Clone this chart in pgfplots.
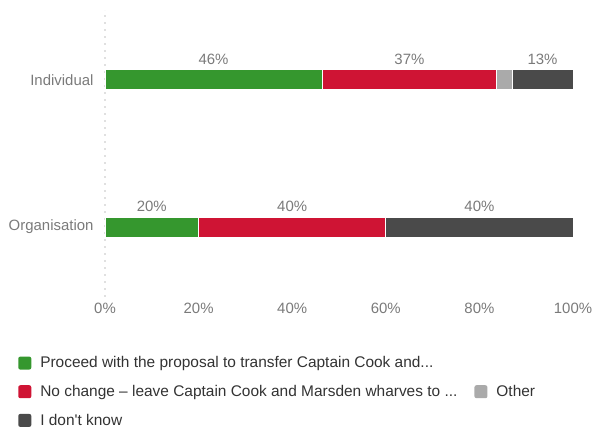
\documentclass[border=0pt]{standalone}
\usepackage{fontspec}
\setmainfont[Ligatures=TeXOff]{Liberation Sans}
\usepackage{pgfplots}
\pgfplotsset{compat=1.18}

\definecolor{cgreen}{HTML}{35972E}
\definecolor{cred}{HTML}{CF1434}
\definecolor{cother}{HTML}{AAAAAA}
\definecolor{cdark}{HTML}{4A4A4A}
\definecolor{labelgray}{HTML}{7A7A7A}
\definecolor{legtext}{HTML}{333333}

\tikzset{vallabel/.style={text=labelgray, font=\fontsize{15}{18}\selectfont}}
\pgfplotsset{
  squarelegend/.style={
    legend image code/.code={
      \fill[##1, draw=none, rounded corners=2bp] (0bp,-6.5bp) rectangle (13bp,6.5bp);
      \path[draw=none, fill=none] (0bp,0bp) -- (20bp,0bp);
    },
  },
}

\begin{document}
\begin{tikzpicture}
\path[use as bounding box] (0,0) rectangle (595bp,434bp);
\begin{axis}[
  at={(105bp,137bp)}, anchor=south west,
  scale only axis, width=468bp, height=287bp,
  xbar stacked, bar width=20bp,
  squarelegend,
  xmin=0, xmax=100, ymin=-0.476, ymax=1.476,
  ytick={0,1}, yticklabels={Organisation,Individual},
  xtick={0,20,40,60,80,100},
  xticklabels={0\%,20\%,40\%,60\%,80\%,100\%},
  axis lines*=left,
  x axis line style={draw=none},
  y axis line style={draw=black!12, line width=2bp, dash pattern=on 2bp off 5bp},
  major tick length=0,
  tick label style={text=labelgray, font=\fontsize{15}{18}\selectfont},
  yticklabel style={xshift=-8bp},
  xticklabel style={yshift=-3bp},
  clip=false,
  legend columns=2,
  legend cell align=left,
  legend style={
    at={(-0.1857,-0.2005)}, anchor=north west,
    draw=none, fill=none, inner sep=0pt,
    font=\fontsize{15.5}{18}\selectfont, text=legtext,
    row sep=12bp,
    /tikz/every even column/.append style={column sep=15bp},
  },
]
\addplot[fill=cgreen, draw=white, line width=1bp] coordinates {(20,0) (46.4,1)};
\addlegendentry{Proceed with the proposal to transfer Captain Cook and...}
% blank entry: keeps the second column of the first legend row empty
\addplot[fill=white, draw=none] coordinates {(0,0) (0,1)};
\addlegendentry{}
\addplot[fill=cred, draw=white, line width=1bp] coordinates {(40,0) (37.3,1)};
\addlegendentry{No change – leave Captain Cook and Marsden wharves to ...}
\addplot[fill=cother, draw=white, line width=1bp] coordinates {(0,0) (3.3,1)};
\addlegendentry{Other}
\addplot[fill=cdark, draw=white, line width=1bp] coordinates {(40,0) (13.0,1)};
\addlegendentry{I don't know}

\node[vallabel] at (axis cs:23.2,1.143) {46\%};
\node[vallabel] at (axis cs:65.05,1.143) {37\%};
\node[vallabel] at (axis cs:93.5,1.143) {13\%};
\node[vallabel] at (axis cs:10,0.143) {20\%};
\node[vallabel] at (axis cs:40,0.143) {40\%};
\node[vallabel] at (axis cs:80,0.143) {40\%};
\end{axis}
\end{tikzpicture}
\end{document}
